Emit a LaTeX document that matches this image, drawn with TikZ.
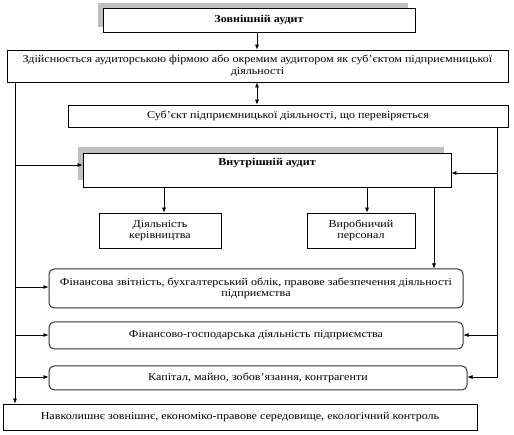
\documentclass[tikz,border=0pt]{standalone}
\usepackage{fontspec}
\setmainfont[FakeStretch=1.15]{Liberation Serif}
\usetikzlibrary{arrows.meta}
\begin{document}
\begin{tikzpicture}[x=1pt,y=-1pt,
  txt/.style={font=\fontsize{10.5}{11.5}\selectfont},
  box/.style={draw,line width=0.8pt,inner sep=0pt,align=center,txt},
  rbox/.style={box,rounded corners=5pt,draw=black!80,line width=1pt},
  arr/.style={-{Latex[length=5pt,width=4pt]},line width=0.6pt},
  darr/.style={{Latex[length=5pt,width=4pt]}-{Latex[length=5pt,width=4pt]},line width=0.6pt}]
\useasboundingbox (0,0) rectangle (514,435);
% shadows
\fill[black!25] (98,3) rectangle (408,27);
\fill[black!25] (78,147) rectangle (444,180);
% boxes
\node[box,fill=white,minimum width=312pt,minimum height=24pt,font=\fontsize{10.5}{11.5}\selectfont\bfseries] (zov) at (259,20) {Зовнішній аудит};
\node[box,minimum width=501pt,minimum height=32pt] (zd) at (257.5,66) {Здійснюється аудиторською фірмою або окремим аудитором як суб’єктом підприємницької\\діяльності};
\node[box,minimum width=440pt,minimum height=22pt] (sub) at (288,116) {Суб’єкт підприємницької діяльності, що перевіряється};
\node[box,fill=white,minimum width=368pt,minimum height=34pt] (vn) at (267,170) {};
\node[font=\fontsize{10.5}{11.5}\selectfont\bfseries,inner sep=0pt] (vnt) at (267,163) {Внутрішній аудит};
\node[box,minimum width=122pt,minimum height=35pt] (dk) at (160,230.5) {Діяльність\\керівництва};
\node[box,minimum width=108pt,minimum height=35pt] (vp) at (361,230.5) {Виробничий\\персонал};
\node[rbox,minimum width=414pt,minimum height=39pt] (f1) at (256,288.5) {Фінансова звітність, бухгалтерський облік, правове забезпечення діяльності\\підприємства};
\node[rbox,minimum width=414pt,minimum height=27pt] (f2) at (256,335.5) {Фінансово-господарська діяльність підприємства};
\node[rbox,minimum width=418pt,minimum height=24pt] (f3) at (258,378) {Капітал, майно, зобов’язання, контрагенти};
\node[box,minimum width=474pt,minimum height=26pt] (nb) at (240,417) {Навколишнє зовнішнє, економіко-правове середовище, екологічний контроль};
% connectors
\draw[arr] (zov.south -| 257,0) -- (zd.north -| 257,0);
\draw[darr] (zd.south -| 257,0) -- (sub.north -| 257,0);
% left trunk
\coordinate (lt) at (zd.south -| 15,0);
\draw[arr] (lt) -- (nb.north -| lt);
\draw[arr] (15,165) -- (vn.west |- 0,165);
\draw[arr] (15,287) -- (f1.west |- 0,287);
\draw[arr] (15,335) -- (f2.west |- 0,335);
\draw[arr] (15,377) -- (f3.west |- 0,377);
% right trunk
\coordinate (rt) at (sub.south -| 497,0);
\draw[arr] (rt) -- (497,377) -- (f3.east |- 0,377);
\draw[arr] (497,173) -- (vn.east |- 0,173);
\draw[arr] (497,335) -- (f2.east |- 0,335);
% internal audit children
\draw[arr] (vn.south -| 164,0) -- (dk.north -| 164,0);
\draw[arr] (vn.south -| 367,0) -- (vp.north -| 367,0);
\draw[arr] (vn.south -| 434,0) -- (f1.north -| 434,0);
\end{tikzpicture}
\end{document}
